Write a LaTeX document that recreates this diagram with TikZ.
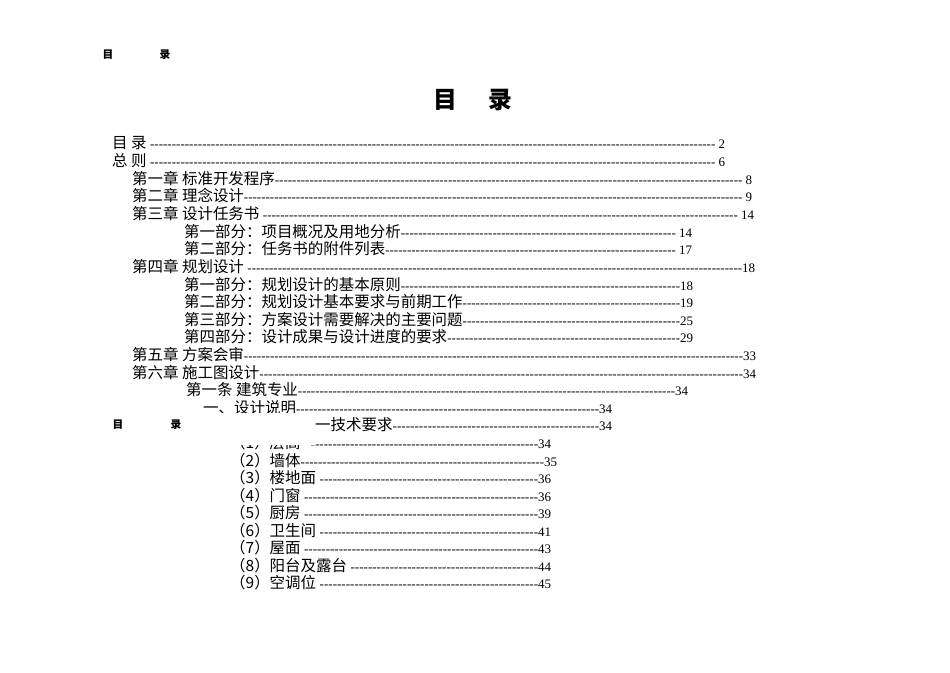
\documentclass[tikz,border=0pt]{standalone}
\usepackage{fontspec}
\setmainfont{Liberation Serif}
\newfontfamily\cjk[Scale=1.19]{Noto Sans CJK SC}
\newcommand\tocrow[5]{\node[inner sep=0,anchor=base west] at (#1,#2+5) {\hbox to \dimexpr#4pt-#1pt\relax{\cjk #3\rmfamily\xleaders\hbox{-}\hfill #5}};}
\begin{document}
\begin{tikzpicture}[x=1pt,y=-1pt,font=\fontsize{13}{13}\selectfont]
\useasboundingbox (0,0) rectangle (950,672);
\fill[white] (0,0) rectangle (950,672);
\node[font=\cjk\fontsize{9}{9}\selectfont\bfseries] (h1) at (108,55) {目};
\node[font=\cjk\fontsize{9}{9}\selectfont\bfseries] (h2) at (165,55) {录};
\node[font=\cjk\fontsize{20}{20}\selectfont\bfseries] (t) at (473,100) {目\hspace{1.3em}录};
\tocrow{112}{143}{目 录 }{725}{ 2}
\tocrow{112}{161}{总 则 }{725}{ 6}
\tocrow{132}{179}{第一章 标准开发程序}{752}{ 8}
\tocrow{132}{196}{第二章 理念设计}{752}{ 9}
\tocrow{132}{214}{第三章 设计任务书 }{754}{ 14}
\tocrow{184}{232}{第一部分：项目概况及用地分析}{692}{ 14}
\tocrow{184}{249}{第二部分：任务书的附件列表}{692}{ 17}
\tocrow{132}{267}{第四章 规划设计 }{755}{18}
\tocrow{184}{285}{第一部分：规划设计的基本原则}{693}{18}
\tocrow{184}{302}{第二部分：规划设计基本要求与前期工作}{693}{19}
\tocrow{184}{320}{第三部分：方案设计需要解决的主要问题}{693}{25}
\tocrow{184}{337}{第四部分：设计成果与设计进度的要求}{693}{29}
\tocrow{132}{355}{第五章 方案会审}{756}{33}
\tocrow{132}{373}{第六章 施工图设计}{756}{34}
\tocrow{186}{390}{第一条 建筑专业}{688}{34}
\begin{scope}
\clip (0,398) rectangle (950,412);
\tocrow{203}{408}{一、设计说明}{612}{34}
\end{scope}
\node[font=\cjk\fontsize{9}{9}\selectfont\bfseries] (h3) at (118,425) {目};
\node[font=\cjk\fontsize{9}{9}\selectfont\bfseries] (h4) at (176,425) {录};
\tocrow{315}{425}{一技术要求}{612}{34}
\begin{scope}
\clip (0,445) rectangle (316,452) (316,434) rectangle (950,452);
\tocrow{230}{443}{（1）层高\hspace{10pt}}{551}{34}
\end{scope}
\tocrow{230}{461}{（2）墙体}{557}{35}
\tocrow{230}{478}{（3）楼地面 }{551}{36}
\tocrow{230}{496}{（4）门窗 }{551}{36}
\tocrow{230}{513}{（5）厨房 }{551}{39}
\tocrow{230}{531}{（6）卫生间 }{551}{41}
\tocrow{230}{548}{（7）屋面 }{551}{43}
\tocrow{230}{566}{（8）阳台及露台 }{551}{44}
\tocrow{230}{583}{（9）空调位 }{551}{45}
\end{tikzpicture}
\end{document}
